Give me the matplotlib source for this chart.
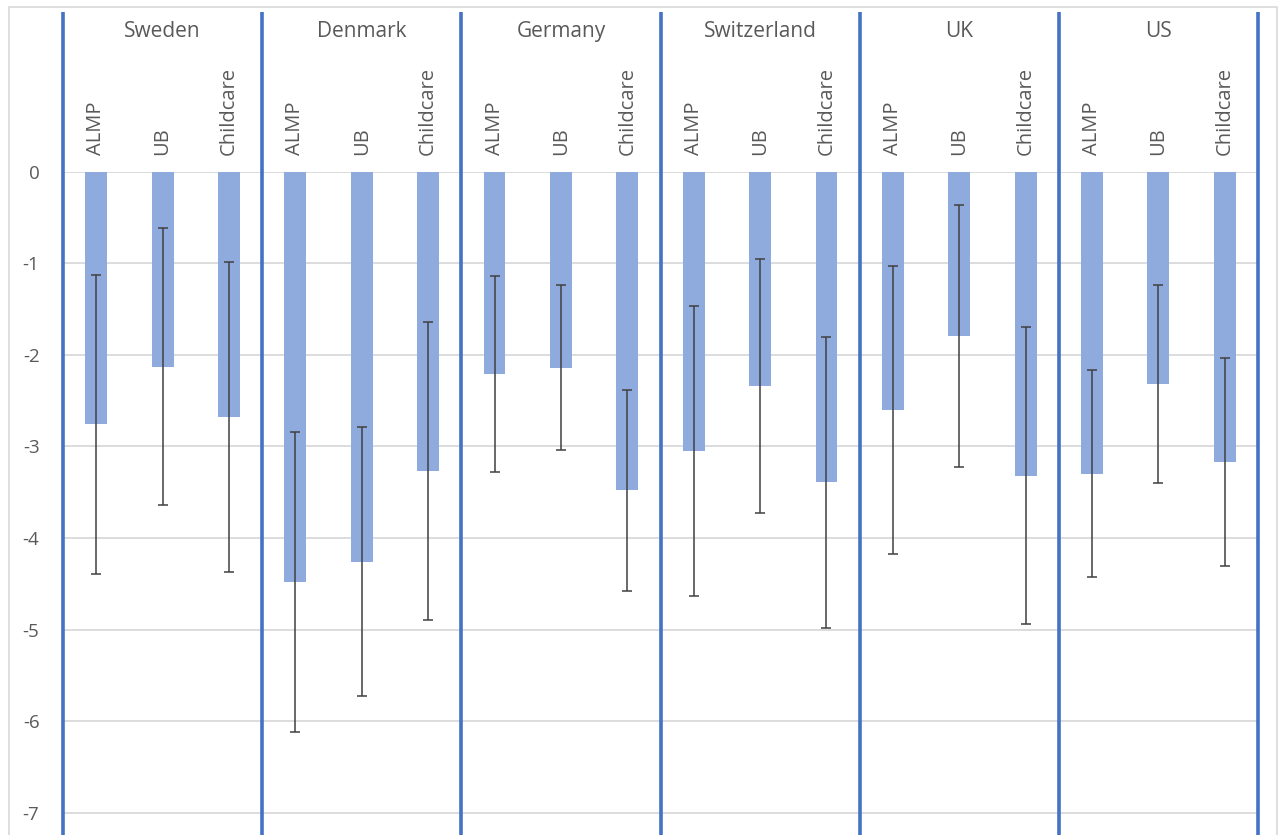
import matplotlib.pyplot as plt
from matplotlib.patches import Rectangle
import numpy as np

plt.rcParams['font.family'] = ['Open Sans', 'DejaVu Sans']

# estimated effects and error half-widths
countries = ['Sweden', 'Denmark', 'Germany', 'Switzerland', 'UK', 'US']
policies = ['ALMP', 'UB', 'Childcare']

almp = [-2.76, -4.48, -2.21, -3.05, -2.60, -3.30]
ub = [-2.13, -4.26, -2.14, -2.34, -1.79, -2.32]
childcare = [-2.68, -3.27, -3.48, -3.39, -3.32, -3.17]

almp_err = [1.63, 1.64, 1.07, 1.58, 1.57, 1.13]
ub_err = [1.51, 1.47, 0.90, 1.39, 1.43, 1.08]
childcare_err = [1.69, 1.63, 1.10, 1.59, 1.62, 1.14]

W, H = 1281, 835
fig = plt.figure(figsize=(W / 100, H / 100), dpi=100)
fig.patches.append(Rectangle((9 / W, -0.1), (1277 - 9) / W, 1.1 - 7 / H,
                             transform=fig.transFigure, fill=False,
                             edgecolor='#d9d9d9', lw=1.2))

y0_px = 171.7  # pixel row of zero line
ax_h = (H - y0_px) / H
ax = fig.add_axes([63 / W, 0, (1258 - 63) / W, ax_h])

vals = np.array([almp, ub, childcare]).T.flatten()
errs = np.array([almp_err, ub_err, childcare_err]).T.flatten()
x = np.arange(len(vals)) + 0.5

ax.bar(x, vals, width=0.33, color='#8faadc', zorder=2)
ax.errorbar(x, vals, yerr=errs, fmt='none', ecolor='#404040', elinewidth=1.1,
            capsize=3.5, capthick=1.1, zorder=3)

unit_px = 91.57
ax.set_ylim(-(H - y0_px) / unit_px, 0)
ax.set_xlim(0, len(vals))
ax.set_yticks(range(-7, 1))
ax.set_yticklabels([str(v) for v in range(-7, 1)])
ax.tick_params(axis='y', length=0, pad=17, labelsize=13.5, labelcolor='#595959')
ax.set_xticks([])
for s in ax.spines.values():
    s.set_visible(False)
ax.yaxis.grid(True, color='#d9d9d9', lw=1.3, zorder=0)
ax.set_axisbelow(True)

tr = ax.get_xaxis_transform()
top_frac = (H - 12) / (H - y0_px)
ax.vlines(np.arange(0, len(vals) + 1, 3), 0, top_frac, transform=tr,
          colors='#4472c4', lw=2.6, clip_on=False, zorder=4)

cat_frac = (H - 155) / (H - y0_px)
for i, xi in enumerate(x):
    ax.text(xi, cat_frac, policies[i % 3], transform=tr, rotation=90,
            ha='center', va='bottom', fontsize=14.5, color='#595959')

country_frac = (H - 31.7) / (H - y0_px)
for j, c in enumerate(countries):
    ax.text(3 * j + 1.5, country_frac, c, transform=tr, ha='center',
            va='center', fontsize=15, color='#595959')

fig.savefig('out.png', dpi=100)
